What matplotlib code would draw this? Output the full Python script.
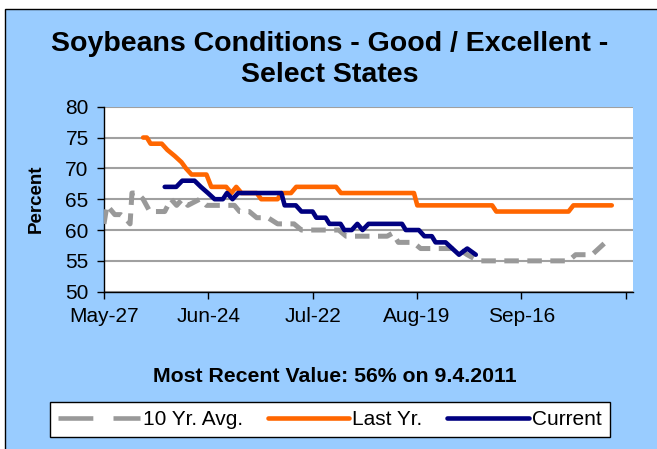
import matplotlib
matplotlib.use("Agg")
import matplotlib.pyplot as plt
from matplotlib.lines import Line2D
from matplotlib.patches import Rectangle

plt.rcParams['font.family'] = ['Liberation Sans', 'DejaVu Sans']

# days after May-27 (2011) and Good/Excellent percent
avg_days = [0, 0.8, 2.9, 4.5, 5.6, 7, 7.5, 9, 10.5, 12.3, 16.3, 18, 19.5, 21, 22.5,
            25.7, 27.5, 35, 36.4, 39, 41, 44, 46.6, 51, 53, 63, 65, 76, 77.5, 79,
            83, 85, 92, 95, 97.5, 100.5, 124.7, 126.6, 131, 134.6]
avg_vals = [61, 64, 62.5, 62.5, 62, 61, 66, 66, 65, 63, 63, 65, 64, 65, 64,
            65, 64, 64, 63, 63, 62, 62, 61, 61, 60, 60, 59, 59, 59.5, 58,
            58, 57, 57, 57, 56, 55, 55, 56, 56, 58]

last_days = [10.5, 11.5, 12.5, 15.5, 17, 19, 20.8, 22, 23.5, 27.5, 28.8, 32.8, 34.2,
             35.5, 36.9, 41, 42.2, 46.6, 47.6, 50.2, 51.6, 62.3, 63.6, 83.2, 84.1,
             104.2, 105.3, 124.7, 126, 136.3]
last_vals = [75, 75, 74, 74, 73, 72, 71, 70, 69, 69, 67, 67, 66,
             67, 66, 66, 65, 65, 66, 66, 67, 67, 66, 66, 64,
             64, 63, 63, 64, 64]

cur_days = [16.3, 19.4, 21, 24.3, 26, 27.9, 29.7, 31.9, 33, 34.5, 36, 47.6, 48.5,
            51.5, 53, 56, 57, 59.5, 60.5, 63.5, 64.5, 66.5, 68, 69.4, 71, 80, 81,
            84.5, 86, 88, 89, 91.7, 93.5, 95.3, 97.5, 99.8]
cur_vals = [67, 67, 68, 68, 67, 66, 65, 65, 66, 65, 66, 66, 64,
            64, 63, 63, 62, 62, 61, 61, 60, 60, 61, 60, 61, 61, 60,
            60, 59, 59, 58, 58, 57, 56, 57, 56]

tick_days = [0, 28, 56, 84, 112, 140]
tick_labels = ['May-27', 'Jun-24', 'Jul-22', 'Aug-19', 'Sep-16', '']

W, H = 657, 449
fig = plt.figure(figsize=(W / 100, H / 100), dpi=100)
fig.patch.set_facecolor('white')
fig.patches.append(Rectangle((5 / W, -0.05), 1.0, 1.05 - 9 / H, transform=fig.transFigure,
                             facecolor='#99CCFF', edgecolor='black', linewidth=1, zorder=-5))

ax = fig.add_axes([104 / W, 1 - 291.7 / H, 529 / W, 185 / H])
ax.set_zorder(2)
ax.set_facecolor('white')

ax.plot(avg_days, avg_vals, color='#999999', lw=3.6, dashes=(2.9, 1.7),
        dash_capstyle='butt', zorder=3)
ax.plot(last_days, last_vals, color='#FF6600', lw=3.3, solid_capstyle='round', zorder=4)
ax.plot(cur_days, cur_vals, color='#000080', lw=3.3, solid_capstyle='round', zorder=5)

ax.set_xlim(0, 142)
ax.set_ylim(50, 80)
ax.set_yticks(range(50, 81, 5))
ax.set_xticks(tick_days)
ax.set_xticklabels(tick_labels)
ax.grid(axis='y', color='#A0A0A0', lw=1.5)
ax.set_axisbelow(True)
for s in ['top', 'right']:
    ax.spines[s].set_visible(False)
for s in ['left', 'bottom']:
    ax.spines[s].set_color('black')
    ax.spines[s].set_linewidth(1)
ax.tick_params(direction='out', length=5, width=1, labelsize=15, pad=6)

fig.text(330 / W, 1 - 59.5 / H, 'Soybeans Conditions - Good / Excellent -\nSelect States',
         ha='center', va='center', fontsize=20.5, fontweight='bold', linespacing=1.25)
fig.text(36 / W, 1 - 199 / H, 'Percent', rotation=90, ha='center', va='center',
         fontsize=13.5, fontweight='bold')
fig.text(335 / W, 1 - 377 / H, 'Most Recent Value: 56% on 9.4.2011',
         ha='center', va='center', fontsize=15.3, fontweight='bold')

handles = [Line2D([], [], color='#999999', lw=3.3, dashes=(7.6, 4.4), dash_capstyle='butt'),
           Line2D([], [], color='#FF6600', lw=3.3, solid_capstyle='round'),
           Line2D([], [], color='#000080', lw=3.3, solid_capstyle='round')]
leg = fig.legend(handles, ['10 Yr. Avg.', 'Last Yr.', 'Current'], loc='center',
                 bbox_to_anchor=(330 / W, 1 - 419.5 / H), ncol=3, fontsize=15,
                 handlelength=3.9, handletextpad=0.15, columnspacing=1.2,
                 fancybox=False, edgecolor='black', framealpha=1, borderpad=0.4)
leg.get_frame().set_linewidth(1)

fig.savefig('out.png', dpi=100)
